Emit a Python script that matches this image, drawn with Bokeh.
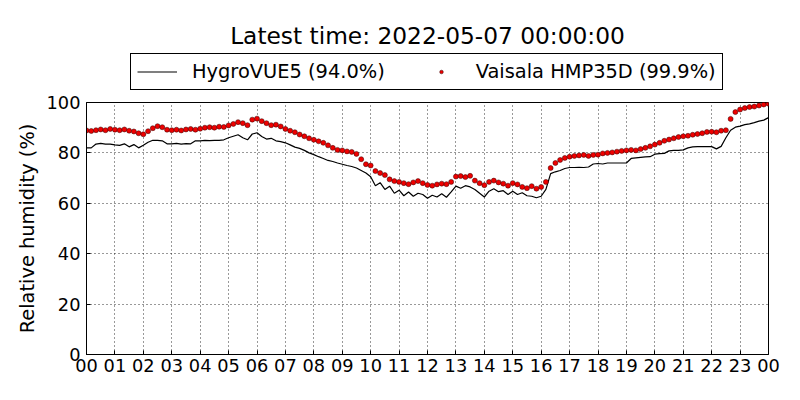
import numpy as np
from bokeh.plotting import figure
from bokeh.layouts import column
from bokeh.models import FixedTicker, Legend, LegendItem, Range1d, ColumnDataSource, Label
from bokeh.embed import file_html
from bokeh.resources import INLINE

# ---- data (10-minute readings, 2022-05-06 00:00 .. 2022-05-07 00:00) ----
minutes = list(range(0, 1441, 10))

hygrovue5 = [
    82.0, 82.0, 83.5, 83.8, 83.5, 83.5,
    83.2, 83.0, 83.6, 82.4, 83.3, 82.0,
    83.0, 84.2, 85.0, 85.0, 84.8, 83.6,
    83.6, 83.8, 83.5, 83.7, 83.6, 84.8,
    84.8, 85.0, 84.9, 85.0, 85.0, 85.2,
    86.0, 86.6, 87.2, 86.0, 85.2, 87.5,
    88.0, 86.5, 85.5, 85.8, 84.8, 84.5,
    84.0, 83.2, 82.3, 81.8, 81.0, 80.0,
    79.3, 78.5, 77.8, 77.0, 76.6, 76.0,
    75.5, 75.0, 74.6, 74.0, 73.0, 72.0,
    70.5, 67.0, 68.2, 65.5, 66.8, 64.0,
    65.2, 63.0, 64.5, 62.8, 64.0, 63.5,
    62.0, 63.2, 62.5, 63.8, 62.4, 64.5,
    66.8, 66.0, 67.0, 66.5, 65.5, 64.0,
    62.5, 64.8, 65.8, 64.6, 65.0, 63.5,
    64.8, 63.5, 64.2, 63.0, 62.8, 62.2,
    62.8, 65.5, 71.8, 72.5, 73.0, 73.8,
    74.2, 74.2, 74.3, 74.2, 74.4, 75.6,
    75.8, 75.6, 76.0, 76.0, 76.0, 76.0,
    76.0, 77.8, 78.0, 78.2, 78.4, 78.5,
    79.5, 79.7, 79.8, 80.8, 81.0, 81.0,
    81.2, 82.0, 82.4, 82.5, 82.5, 82.5,
    82.5, 81.6, 82.6, 86.0, 89.0, 90.2,
    90.6, 91.2, 91.5, 92.0, 92.6, 93.0,
    94.0,
]

hmp35d = [
    88.9, 88.7, 89.0, 89.3, 89.0, 89.5,
    89.2, 89.0, 89.3, 88.8, 88.5, 87.8,
    87.4, 88.6, 89.8, 90.6, 90.2, 89.2,
    89.0, 89.2, 88.9, 89.3, 89.5, 89.2,
    89.6, 90.0, 90.2, 90.0, 90.4, 90.3,
    90.9, 91.5, 92.2, 91.8, 91.0, 93.2,
    93.6, 92.6, 91.8, 91.0, 91.2, 90.5,
    89.5, 88.8, 88.2, 87.3, 86.6, 85.8,
    85.2, 84.6, 84.0, 83.0, 82.0, 81.2,
    81.0, 80.6, 80.4, 79.6, 77.5, 75.5,
    75.0, 72.8, 72.0, 71.2, 69.5, 68.8,
    68.5, 68.0, 67.6, 68.3, 68.8, 68.0,
    67.3, 67.0, 67.5, 67.8, 67.6, 68.5,
    70.6, 70.8, 70.4, 70.9, 69.0, 68.0,
    67.2, 68.5, 69.0, 68.3, 67.8, 67.0,
    68.0, 67.5, 66.5, 66.0, 66.8, 65.8,
    66.5, 68.5, 74.0, 76.0, 77.2, 78.0,
    78.5, 78.8, 79.0, 79.2, 78.8, 79.2,
    79.3, 79.8, 80.0, 80.2, 80.5, 80.8,
    81.0, 81.2, 81.0, 81.5, 82.0, 82.6,
    83.3, 84.0, 84.8, 85.3, 85.8, 86.3,
    86.6, 86.8, 87.2, 87.5, 87.8, 88.3,
    88.4, 88.2, 88.8, 89.0, 93.5, 96.2,
    97.2, 97.8, 98.2, 98.4, 98.8, 99.2,
    99.5,
]

hour_ticks = list(range(25))
hour_labels = ["00", "01", "02", "03", "04", "05", "06", "07", "08", "09", "10", "11",
               "12", "13", "14", "15", "16", "17", "18", "19", "20", "21", "22", "23", "00"]
y_ticks = [0, 20, 40, 60, 80, 100]

series_names = ["HygroVUE5 (94.0%)", "Vaisala HMP35D (99.9%)"]
title_text = "Latest time: 2022-05-07 00:00:00"

FONT = "DejaVu Sans"
FS = "19.4px"
TICK_FS = "17.8px"
TITLE_FS = "23.3px"
LINE_STYLE = dict(line_color="black", line_width=1.2)
DOT_STYLE = dict(fill_color="#ee0000", line_color="#330000", line_width=0.5)

hours = np.array(minutes) / 60.0
src = ColumnDataSource(data=dict(h=hours, hv=hygrovue5, vs=hmp35d))

# ---------------- header (title + legend) ----------------
TOP_H = 92
FRAME_L, FRAME_R = 86, 768
top = figure(width=800, height=TOP_H, output_backend="svg", toolbar_location=None,
             x_range=Range1d(FRAME_L, FRAME_R), y_range=Range1d(0, TOP_H),
             min_border_left=FRAME_L, min_border_right=800 - FRAME_R,
             min_border_top=0, min_border_bottom=0)
top.axis.visible = False
top.grid.visible = False
top.outline_line_color = None
top.background_fill_color = "white"
top.border_fill_color = "white"

top.add_layout(Label(x=(FRAME_L + FRAME_R) / 2, y=TOP_H - 35, text=title_text,
                     text_align="center", text_baseline="middle", text_font=FONT,
                     text_font_size=TITLE_FS, text_color="black"))

# legend-only renderers (nothing visible is drawn by them)
dummy = ColumnDataSource(data=dict(x=[float("nan")], y=[float("nan")]))
leg_line = top.line("x", "y", source=dummy, **LINE_STYLE)
leg_dot = top.scatter("x", "y", source=dummy, size=3.5, **DOT_STYLE)

legend = Legend(items=[LegendItem(label=series_names[0], renderers=[leg_line]),
                       LegendItem(label=series_names[1], renderers=[leg_dot])],
                orientation="horizontal", location=(130 - FRAME_L, TOP_H - 90))
legend.border_line_color = "black"
legend.border_line_width = 1
legend.border_line_alpha = 1.0
legend.background_fill_color = "white"
legend.background_fill_alpha = 1.0
legend.label_text_font = FONT
legend.label_text_font_size = FS
legend.label_text_color = "black"
legend.padding = 6
legend.margin = 0
legend.spacing = 36
legend.label_standoff = 15
legend.glyph_width = 40
legend.glyph_height = 9
legend.label_height = 21
top.add_layout(legend)

# ---------------- main plot ----------------
p = figure(width=800, height=400 - TOP_H, output_backend="svg", toolbar_location=None,
           x_range=Range1d(0, 24), y_range=Range1d(0, 100),
           min_border_left=FRAME_L, min_border_right=800 - FRAME_R,
           min_border_top=10, min_border_bottom=46)

p.background_fill_color = "white"
p.border_fill_color = "white"
p.outline_line_color = "black"
p.outline_line_alpha = 1.0
p.outline_line_width = 1

p.line("h", "hv", source=src, **LINE_STYLE)
p.scatter("h", "vs", source=src, size=5, **DOT_STYLE)

p.xaxis.ticker = FixedTicker(ticks=hour_ticks)
p.xaxis.major_label_overrides = {t: lab for t, lab in zip(hour_ticks, hour_labels)}
p.yaxis.ticker = FixedTicker(ticks=y_ticks)

for ax in (p.xaxis, p.yaxis):
    ax.major_tick_in = 4
    ax.major_tick_out = 0
    ax.minor_tick_in = 0
    ax.minor_tick_out = 0
    ax.axis_line_color = "black"
    ax.major_tick_line_color = "black"
    ax.major_label_text_font = FONT
    ax.major_label_text_font_size = TICK_FS
    ax.major_label_text_color = "black"

p.xaxis.major_label_standoff = 4
p.yaxis.major_label_standoff = 6
p.yaxis.axis_label = "Relative humidity (%)"
p.yaxis.axis_label_text_font = FONT
p.yaxis.axis_label_text_font_size = FS
p.yaxis.axis_label_text_font_style = "normal"
p.yaxis.axis_label_text_color = "black"
p.yaxis.axis_label_standoff = 5

p.grid.grid_line_color = "black"
p.grid.grid_line_dash = "1 3"
p.grid.grid_line_width = 1
p.grid.grid_line_alpha = 0.8

layout = column(top, p, spacing=0)
open("out.html", "w").write(file_html(layout, INLINE))
